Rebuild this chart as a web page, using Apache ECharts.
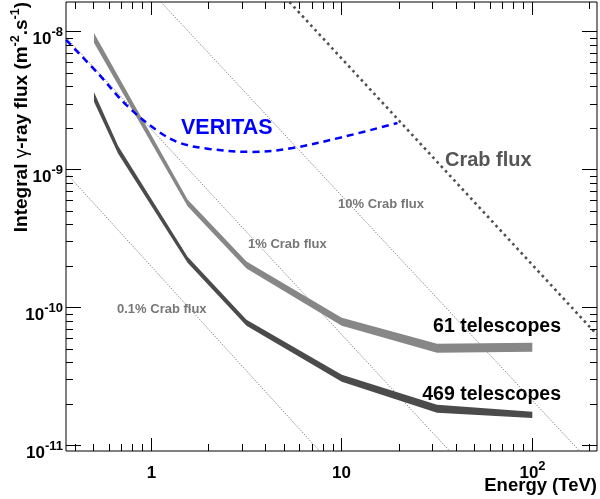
<!DOCTYPE html>
<html><head><meta charset="utf-8">
<script src="https://cdn.jsdelivr.net/npm/echarts@6/dist/echarts.min.js"></script>
<style>html,body{margin:0;padding:0;background:#fff;}#c{width:600px;height:499px;}</style>
</head><body><div id="c"></div>
<script>
// ---- axis ranges ----
const X_MIN = 0.3566, X_MAX = 218.6;
const Y_MIN = 9.15e-12, Y_MAX = 1.65e-8;

// ---- ticks ----
const xMajorTicks = [1, 10, 100];
const xLabelBase = ['1', '10', '10'];
const xLabelExp = ['', '', '2'];
const xMinorTicks = [0.4, 0.5, 0.6, 0.7, 0.8, 0.9, 2, 3, 4, 5, 6, 7, 8, 9, 20, 30, 40, 50, 60, 70, 80, 90, 200];
const yMajorTicks = [1e-11, 1e-10, 1e-9, 1e-8];
const yLabelBase = ['10', '10', '10', '10'];
const yLabelExp = ['-11', '-10', '-9', '-8'];
const yMinorTicks = [2e-11, 3e-11, 4e-11, 5e-11, 6e-11, 7e-11, 8e-11, 9e-11,
                     2e-10, 3e-10, 4e-10, 5e-10, 6e-10, 7e-10, 8e-10, 9e-10,
                     2e-9, 3e-9, 4e-9, 5e-9, 6e-9, 7e-9, 8e-9, 9e-9];

// ---- 61 telescopes band (energy TeV, lower / upper flux) ----
const tel61Energy = [0.5, 1.55, 3.16, 10, 31.6, 100];
const tel61Lower = [8.35e-9, 5.45e-10, 1.93e-10, 7.41e-11, 4.72e-11, 4.80e-11];
const tel61Upper = [9.84e-9, 6.10e-10, 2.17e-10, 8.47e-11, 5.48e-11, 5.57e-11];

// ---- 469 telescopes band ----
const tel469Energy = [0.5, 0.67, 1.55, 3.16, 10, 31.6, 100];
const tel469Lower = [3.12e-9, 1.31e-9, 2.12e-10, 7.40e-11, 2.91e-11, 1.73e-11, 1.59e-11];
const tel469Upper = [3.67e-9, 1.49e-9, 2.34e-10, 8.20e-11, 3.27e-11, 1.98e-11, 1.76e-11];

// ---- VERITAS sensitivity ----
const veritasEnergy = [0.357, 0.535, 0.738, 1.06, 1.41, 2.02, 3.40, 5.51, 10.1, 19.6];
const veritasFlux = [8.75e-9, 4.87e-9, 2.96e-9, 1.95e-9, 1.57e-9, 1.42e-9, 1.35e-9, 1.44e-9, 1.73e-9, 2.19e-9];

// ---- Crab flux reference lines (end points) ----
const crabEnergy = [5.31, 218.6];
const crabFlux = [1.65e-8, 6.37e-11];
const crab10Energy = [1.124, 177];
const crab10Flux = [1.65e-8, 9.15e-12];
const crab1Energy = [0.3566, 36.8];
const crab1Flux = [9.16e-9, 9.15e-12];
const crab01Energy = [0.3566, 7.64];
const crab01Flux = [9.51e-10, 9.15e-12];

const FONT = 'Liberation Sans, Arial, Helvetica, sans-serif';
const RICH = {
  b: {fontFamily: FONT, fontWeight: 'bold', fontSize: 17, color: '#000', verticalAlign: 'bottom', lineHeight: 22},
  s: {fontFamily: FONT, fontWeight: 'bold', fontSize: 13, color: '#000', verticalAlign: 'top', lineHeight: 10}
};
const snap = v => Math.round(v - 0.5) + 0.5;

function xTickRender(isMajor) {
  return function (params, api) {
    const cs = params.coordSys;
    const px = snap(api.coord([api.value(0), api.value(1)])[0]);
    const len = isMajor ? 13 : 7;
    const bottom = cs.y + cs.height, top = cs.y;
    const children = [
      {type: 'line', shape: {x1: px, y1: bottom, x2: px, y2: bottom - len}, style: {stroke: '#000', lineWidth: 1}},
      {type: 'line', shape: {x1: px, y1: top, x2: px, y2: top + len}, style: {stroke: '#000', lineWidth: 1}}
    ];
    if (isMajor) {
      const i = params.dataIndex;
      const t = xLabelExp[i] ? '{b|' + xLabelBase[i] + '}{s|' + xLabelExp[i] + '}' : '{b|' + xLabelBase[i] + '}';
      children.push({type: 'text', x: px, y: bottom + 20, style: {text: t, rich: RICH, align: 'center', verticalAlign: 'middle'}});
    }
    return {type: 'group', children: children};
  };
}
function yTickRender(isMajor) {
  return function (params, api) {
    const cs = params.coordSys;
    const py = snap(api.coord([api.value(0), api.value(1)])[1]);
    const len = isMajor ? 15 : 7;
    const left = cs.x, right = cs.x + cs.width;
    const children = [
      {type: 'line', shape: {x1: left, y1: py, x2: left + len, y2: py}, style: {stroke: '#000', lineWidth: 1}},
      {type: 'line', shape: {x1: right, y1: py, x2: right - len, y2: py}, style: {stroke: '#000', lineWidth: 1}}
    ];
    if (isMajor) {
      const i = params.dataIndex;
      const t = '{b|' + yLabelBase[i] + '}{s|' + yLabelExp[i] + '}';
      children.push({type: 'text', x: left - 3, y: py + 5, style: {text: t, rich: RICH, align: 'right', verticalAlign: 'middle'}});
    }
    return {type: 'group', children: children};
  };
}
function bandRender(E, lo, hi, color) {
  return function (params, api) {
    if (params.dataIndex !== 0) return null;
    const pts = [];
    for (let i = 0; i < E.length; i++) pts.push(api.coord([E[i], hi[i]]));
    for (let i = E.length - 1; i >= 0; i--) pts.push(api.coord([E[i], lo[i]]));
    return {type: 'polygon', shape: {points: pts}, style: {fill: color}};
  };
}
const pairs = (a, b) => a.map((v, i) => [v, b[i]]);
function refLine(E, F, color, width, dash) {
  return {type: 'line', data: pairs(E, F), symbol: 'none', silent: true, z: 2,
    lineStyle: {color: color, width: width, type: dash, cap: 'butt'}};
}

const chart = echarts.init(document.getElementById('c'), null, {renderer: 'canvas'});
chart.setOption({
  animation: false,
  backgroundColor: '#fff',
  grid: {left: 66, right: 3, top: 2, bottom: 48, show: true, borderColor: '#000', borderWidth: 1, backgroundColor: 'transparent'},
  xAxis: {type: 'log', logBase: 10, min: X_MIN, max: X_MAX,
    axisLine: {show: false}, axisTick: {show: false}, axisLabel: {show: false}, splitLine: {show: false}},
  yAxis: {type: 'log', logBase: 10, min: Y_MIN, max: Y_MAX,
    axisLine: {show: false}, axisTick: {show: false}, axisLabel: {show: false}, splitLine: {show: false}},
  series: [
    refLine(crab01Energy, crab01Flux, '#666', 1, [1, 1.6]),
    refLine(crab1Energy, crab1Flux, '#666', 1, [1, 1.6]),
    refLine(crab10Energy, crab10Flux, '#666', 1, [1, 1.6]),
    refLine(crabEnergy, crabFlux, '#505050', 2.6, [2.6, 3.6]),
    {type: 'custom', silent: true, z: 3, renderItem: bandRender(tel61Energy, tel61Lower, tel61Upper, '#878787'),
      data: tel61Energy.map((e, i) => [e, tel61Lower[i], tel61Upper[i]]), encode: {x: 0, y: [1, 2]}},
    {type: 'custom', silent: true, z: 3, renderItem: bandRender(tel469Energy, tel469Lower, tel469Upper, '#4b4b4b'),
      data: tel469Energy.map((e, i) => [e, tel469Lower[i], tel469Upper[i]]), encode: {x: 0, y: [1, 2]}},
    {type: 'line', data: pairs(veritasEnergy, veritasFlux), symbol: 'none', smooth: 0.35, silent: true, z: 4,
      lineStyle: {color: '#0000ff', width: 2.5, type: [7, 5]}},
    {type: 'custom', silent: true, z: 5, clip: false, renderItem: xTickRender(true), data: xMajorTicks.map(v => [v, Y_MIN])},
    {type: 'custom', silent: true, z: 5, clip: false, renderItem: xTickRender(false), data: xMinorTicks.map(v => [v, Y_MIN])},
    {type: 'custom', silent: true, z: 5, clip: false, renderItem: yTickRender(true), data: yMajorTicks.map(v => [X_MIN, v])},
    {type: 'custom', silent: true, z: 5, clip: false, renderItem: yTickRender(false), data: yMinorTicks.map(v => [X_MIN, v])}
  ],
  graphic: [
    {type: 'text', x: 20, y: 2, rotation: Math.PI / 2, silent: true,
      style: {text: '{t|Integral }{g|γ}{t|-ray flux (m}{s|-2}{t|.s}{s|-1}{t|)}', align: 'right', verticalAlign: 'middle',
        rich: {
          t: {fontFamily: FONT, fontWeight: 'bold', fontSize: 19, color: '#000', verticalAlign: 'bottom', lineHeight: 22},
          g: {fontFamily: FONT, fontWeight: 'normal', fontSize: 19, color: '#000', verticalAlign: 'bottom', lineHeight: 22},
          s: {fontFamily: FONT, fontWeight: 'bold', fontSize: 12.5, color: '#000', verticalAlign: 'top', lineHeight: 10}
        }}},
    {type: 'text', x: 597, y: 486, silent: true,
      style: {text: 'Energy (TeV)', fontFamily: FONT, fontWeight: 'bold', fontSize: 18.5, fill: '#000', align: 'right', verticalAlign: 'middle'}},
    {type: 'text', x: 181, y: 128, silent: true,
      style: {text: 'VERITAS', fontFamily: FONT, fontWeight: 'bold', fontSize: 21.5, fill: '#0000ff', align: 'left', verticalAlign: 'middle'}},
    {type: 'text', x: 445, y: 160, silent: true,
      style: {text: 'Crab flux', fontFamily: FONT, fontWeight: 'bold', fontSize: 20, fill: '#555', align: 'left', verticalAlign: 'middle'}},
    {type: 'text', x: 338, y: 204, silent: true,
      style: {text: '10% Crab flux', fontFamily: FONT, fontWeight: 'bold', fontSize: 13, fill: '#777', align: 'left', verticalAlign: 'middle'}},
    {type: 'text', x: 248, y: 244, silent: true,
      style: {text: '1% Crab flux', fontFamily: FONT, fontWeight: 'bold', fontSize: 13, fill: '#777', align: 'left', verticalAlign: 'middle'}},
    {type: 'text', x: 117, y: 309, silent: true,
      style: {text: '0.1% Crab flux', fontFamily: FONT, fontWeight: 'bold', fontSize: 13, fill: '#777', align: 'left', verticalAlign: 'middle'}},
    {type: 'text', x: 561, y: 327, silent: true,
      style: {text: '61 telescopes', fontFamily: FONT, fontWeight: 'bold', fontSize: 19.5, fill: '#000', align: 'right', verticalAlign: 'middle'}},
    {type: 'text', x: 561, y: 395, silent: true,
      style: {text: '469 telescopes', fontFamily: FONT, fontWeight: 'bold', fontSize: 19.5, fill: '#000', align: 'right', verticalAlign: 'middle'}}
  ]
});
</script>
</body></html>
